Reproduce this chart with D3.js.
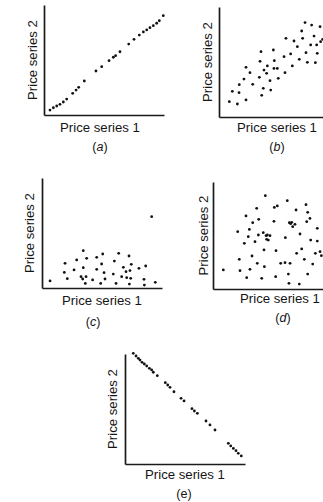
<!DOCTYPE html>
<html><head><meta charset="utf-8">
<script src="https://cdn.jsdelivr.net/npm/d3@7"></script>
<style>
html,body{margin:0;padding:0;background:#fff;}
svg{display:block;}
text{font-family:"Liberation Sans",Arial,sans-serif;fill:#151515;}
</style></head>
<body>
<svg id="chart" width="323" height="502"></svg>
<script>
// ---- Data (values on a 0–10 scale for each axis) ----
const xLabel = "Price series 1";
const yLabel = "Price series 2";
const captions = ["(a)", "(b)", "(c)", "(d)", "(e)"];

const aX = [0.5,0.78,1.06,1.33,1.61,1.89,2.39,2.67,2.89,3.36,4.33,4.81,5.42,5.78,5.97,6.33,7.06,7.5,7.94,8.28,8.56,8.83,9.11,9.39,9.61,9.94];
const aY = [0.45,0.66,0.82,0.97,1.18,1.45,1.97,2.27,2.52,3.09,4.0,4.39,4.94,5.25,5.39,5.75,6.45,6.88,7.27,7.55,7.73,7.94,8.12,8.34,8.57,9.03];

const bX = [0.86,1.53,2.25,1.11,1.67,1.69,2.08,2.25,2.58,2.81,3.36,3.42,3.5,3.56,3.69,3.75,3.97,4.03,4.25,4.31,4.53,4.61,4.58,4.86,4.94,5.42,5.5,5.58,5.97,6.11,6.25,6.53,6.69,6.89,6.97,7.17,7.25,7.36,7.72,7.64,7.92,8.03,8.14,8.19,8.42,8.47,8.64];
const bY = [1.39,1.18,1.55,2.33,2.21,2.94,3.45,4.52,4.03,2.97,3.61,5.06,5.94,1.97,2.61,4.27,3.97,4.64,3.30,2.45,6.09,5.12,4.42,4.42,3.52,5.48,4.03,7.15,5.73,4.64,6.91,6.39,5.24,7.82,7.15,8.58,5.85,4.97,8.36,6.55,7.36,4.94,6.55,5.79,8.21,6.85,7.06];

const cX = [0.67,1.92,1.86,2.11,2.67,2.89,3.25,3.44,3.44,3.39,3.61,3.67,3.72,4.22,4.56,4.56,4.97,5.06,5.17,4.89,5.25,5.94,6.03,6.17,6.39,6.64,6.78,7.0,7.06,7.25,7.33,7.44,7.39,7.28,8.08,8.5,8.53,8.64,9.14,9.44];
const cY = [0.64,2.24,1.42,0.85,1.64,2.55,1.03,3.39,1.85,0.82,0.42,1.03,2.70,0.73,2.79,1.70,2.18,3.09,1.39,0.42,0.82,1.27,2.45,0.42,3.15,1.03,1.88,1.48,0.94,2.91,1.58,2.15,0.88,0.36,1.79,0.79,0.27,2.0,6.48,0.52];

const dX = [0.86,2.06,2.19,2.25,2.61,2.75,2.81,2.94,3.03,3.08,3.25,3.31,3.5,3.64,3.69,3.78,3.81,4.06,4.19,4.25,4.28,4.36,4.42,4.47,4.61,4.53,4.75,5.08,5.11,5.22,5.25,5.36,5.64,6.0,6.03,6.19,6.28,6.33,6.36,6.42,6.47,6.56,6.64,6.83,6.92,6.97,7.19,7.25,7.39,7.61,7.75,7.81,7.89,7.89,8.08,8.14,8.31,8.53,8.69,8.69,8.92,9.03];
const dY = [1.73,5.21,2.70,1.67,4.15,6.64,1.03,4.76,5.42,1.79,3.0,6.03,4.30,7.33,2.33,4.91,6.33,0.97,5.12,3.55,2.03,8.48,4.85,4.52,4.45,4.91,4.85,6.15,7.42,1.12,3.48,7.55,2.33,2.39,4.67,8.03,1.36,0.52,6.03,2.33,5.94,6.06,5.67,5.88,7.18,3.24,0.45,5.0,3.64,2.70,7.67,6.12,6.97,1.36,6.42,4.45,2.27,3.24,5.52,4.36,3.39,3.03];

const eX = [0.69,0.92,1.11,1.25,1.42,1.61,1.81,2.03,2.22,2.36,2.69,3.36,3.56,3.75,4.08,4.67,4.92,5.58,5.78,6.03,6.75,7.08,7.5,8.61,8.81,9.03,9.25,9.44,9.69];
const eY = [10.06,9.82,9.61,9.45,9.24,9.09,8.91,8.70,8.55,8.34,8.03,7.39,7.18,6.97,6.57,5.97,5.73,5.03,4.82,4.61,3.91,3.55,3.09,1.88,1.64,1.42,1.21,0.97,0.73];

// ---- Layout ----
const panels = [
  {x:aX, y:aY, ox:44,  oy:115, h:110, lx:56, ly:17, cx:56, cy:36, yl:12, italic:true},
  {x:bX, y:bY, ox:219, oy:117, h:110, lx:58, ly:15, cx:58, cy:34, yl:12, italic:true},
  {x:cX, y:cY, ox:42,  oy:288, h:110, lx:60, ly:17, cx:51, cy:38, yl:13, italic:true},
  {x:dX, y:dY, ox:213, oy:289, h:107, lx:67, ly:14, cx:70, cy:33, yl:10, italic:true},
  {x:eX, y:eY, ox:125, oy:464, h:110, lx:60, ly:15, cx:59, cy:34, yl:13, italic:false}
];
const W = 120;
const FS = 13.2;

const svg = d3.select("#chart");

panels.forEach((p, i) => {
  const xs = d3.scaleLinear().domain([0, 10]).range([p.ox, p.ox + W]);
  const ys = d3.scaleLinear().domain([0, 10]).range([p.oy, p.oy - 110]);
  const g = svg.append("g");

  g.append("g").attr("transform", `translate(0,${p.oy})`)
    .call(d3.axisBottom(xs).tickValues([]).tickSizeOuter(0))
    .select(".domain").attr("stroke", "#1a1a1a").attr("stroke-width", 1.7);
  const ysAxis = d3.scaleLinear().domain([0, 1]).range([p.oy, p.oy - p.h]);
  g.append("g").attr("transform", `translate(${p.ox},0)`)
    .call(d3.axisLeft(ysAxis).tickValues([]).tickSizeOuter(0))
    .select(".domain").attr("stroke", "#1a1a1a").attr("stroke-width", 1.7);

  g.selectAll("circle").data(d3.zip(p.x, p.y)).join("circle")
    .attr("cx", d => xs(d[0])).attr("cy", d => ys(d[1]))
    .attr("r", 1.4).attr("fill", "#111");

  g.append("text").attr("x", p.ox + p.lx).attr("y", p.oy + p.ly)
    .attr("text-anchor", "middle").attr("font-size", FS).text(xLabel);
  g.append("text")
    .attr("transform", `translate(${p.ox - p.yl},${p.oy - p.h / 2}) rotate(-90)`)
    .attr("text-anchor", "middle").attr("dominant-baseline", "central")
    .attr("font-size", FS).text(yLabel);
  const cap = g.append("text").attr("x", p.ox + p.cx).attr("y", p.oy + p.cy)
    .attr("text-anchor", "middle").attr("font-size", 12.5);
  const c = captions[i];
  cap.append("tspan").text("(");
  cap.append("tspan").attr("font-style", p.italic ? "italic" : "normal").text(c.slice(1, -1));
  cap.append("tspan").text(")");
});
</script>
</body></html>
